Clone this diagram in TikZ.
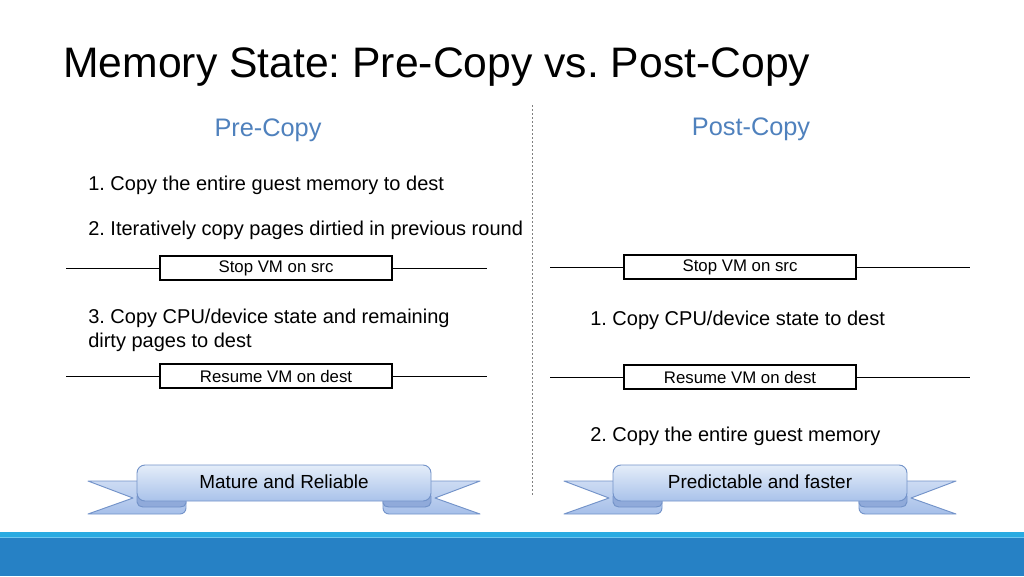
\documentclass[tikz,border=0pt]{standalone}
\usepackage{fontspec}
\setmainfont{Liberation Sans}
\frenchspacing
\definecolor{headblue}{HTML}{4F81BD}
\definecolor{barlight}{HTML}{29ABE2}
\definecolor{bardark}{HTML}{2681C5}
\definecolor{barline}{HTML}{6CC6F0}
\definecolor{ribstroke}{HTML}{7393C9}
\definecolor{ribtop}{HTML}{E4EDF9}
\definecolor{ribbot}{HTML}{A9C2EA}
\definecolor{ribfold}{HTML}{90AADA}
\definecolor{tailtop}{HTML}{CCDBF3}
\definecolor{tailbot}{HTML}{A6BFE9}
\tikzset{
  titletext/.style={anchor=base west, inner sep=0pt, font=\fontsize{32}{38}\selectfont},
  headtext/.style={anchor=base, inner sep=0pt, text=headblue, font=\fontsize{19}{23}\selectfont},
  bodytext/.style={anchor=base west, inner sep=0pt, font=\fontsize{15}{18}\selectfont},
  vmbox/.style={draw=black, line width=1pt, fill=white, minimum width=174pt, minimum height=18pt, inner sep=0pt, font=\fontsize{12.6}{15}\selectfont},
  timeline/.style={draw=black, line width=0.75pt},
  ribline/.style={draw=ribstroke, line width=0.7pt, line join=round},
  ribband/.style={ribline, top color=ribtop, bottom color=ribbot, rounded corners=6pt},
  ribtail/.style={ribline, top color=tailtop, bottom color=tailbot},
  ribfoldst/.style={ribline, fill=ribfold},
  ribtext/.style={inner sep=0pt, font=\fontsize{14.2}{17}\selectfont},
}
\begin{document}
\begin{tikzpicture}[x=0.75pt, y=-0.75pt]
\useasboundingbox (0,0) rectangle (1024,576);
\fill[white] (0,0) rectangle (1024,576);

% title
\node[titletext] (title) at (63,77) {Memory State: Pre-Copy vs. Post-Copy};

% headings
\node[headtext] (hpre) at (268,136) {Pre-Copy};
\node[headtext] (hpost) at (751,135) {Post-Copy};

% divider
\coordinate (dtop) at (532,105);
\coordinate (dbot) at (532,495);
\draw[gray, line width=0.75pt, dash pattern=on 1.5pt off 1.5pt] (dtop) -- (dbot);

% left column texts
\node[bodytext] (l1) at (88,190) {1. Copy the entire guest memory to dest};
\node[bodytext] (l2) at (88,235) {2. Iteratively copy pages dirtied in previous round};
\node[bodytext] (l3) at (88,323) {3. Copy CPU/device state and remaining};
\node[bodytext] (l4) at (88,347) {dirty pages to dest};

% right column texts
\node[bodytext] (r1) at (590,325) {1. Copy CPU/device state to dest};
\node[bodytext] (r2) at (590,441) {2. Copy the entire guest memory};

% left timelines
\node[vmbox] (stopL) at (276,268) {Stop VM on src};
\coordinate (stopLa) at (66,268);
\coordinate (stopLb) at (487,268);
\draw[timeline] (stopLa) -- (stopL.west);
\draw[timeline] (stopL.east) -- (stopLb);

\node[vmbox] (resL) at (276,376) {Resume VM on dest};
\coordinate (resLa) at (66,376);
\coordinate (resLb) at (487,376);
\draw[timeline] (resLa) -- (resL.west);
\draw[timeline] (resL.east) -- (resLb);

% right timelines
\node[vmbox] (stopR) at (740,267) {Stop VM on src};
\coordinate (stopRa) at (550,267);
\coordinate (stopRb) at (970,267);
\draw[timeline] (stopRa) -- (stopR.west);
\draw[timeline] (stopR.east) -- (stopRb);

\node[vmbox] (resR) at (740,377) {Resume VM on dest};
\coordinate (resRa) at (550,377);
\coordinate (resRb) at (970,377);
\draw[timeline] (resRa) -- (resR.west);
\draw[timeline] (resR.east) -- (resRb);

% ribbons
\foreach \sx/\txt/\nm in {0/Mature and Reliable/ribL, 476/Predictable and faster/ribR}{
  \begin{scope}[shift={(\sx,0)}]
    % left tail
    \path[ribtail] (140,481) -- (88,481) -- (133,498) -- (88,514) -- (180,514)
       to[out=0,in=-90] (186,508) -- (186,497) -- (140,497) -- cycle;
    \path[ribfoldst] (186,496) -- (186,503) to[out=-90,in=0] (180,507) -- (143,507)
       to[out=180,in=-90] (137,502) -- (137,496) -- cycle;
    % right tail
    \path[ribtail] (428,481) -- (480,481) -- (435,498) -- (480,514) -- (389,514)
       to[out=180,in=-90] (383,508) -- (383,497) -- (428,497) -- cycle;
    \path[ribfoldst] (383,496) -- (383,503) to[out=-90,in=180] (389,507) -- (425,507)
       to[out=0,in=-90] (431,502) -- (431,496) -- cycle;
    % band
    \path[ribband] (137,465) rectangle (431,501);
    \node[ribtext] (\nm) at (284,482) {\txt};
  \end{scope}
}

% bottom bar
\fill[barlight] (0,532) rectangle (1024,537);
\fill[bardark] (0,537) rectangle (1024,576);
\draw[barline, line width=0.6pt] (0,537.5) -- (1024,537.5);
\end{tikzpicture}
\end{document}
